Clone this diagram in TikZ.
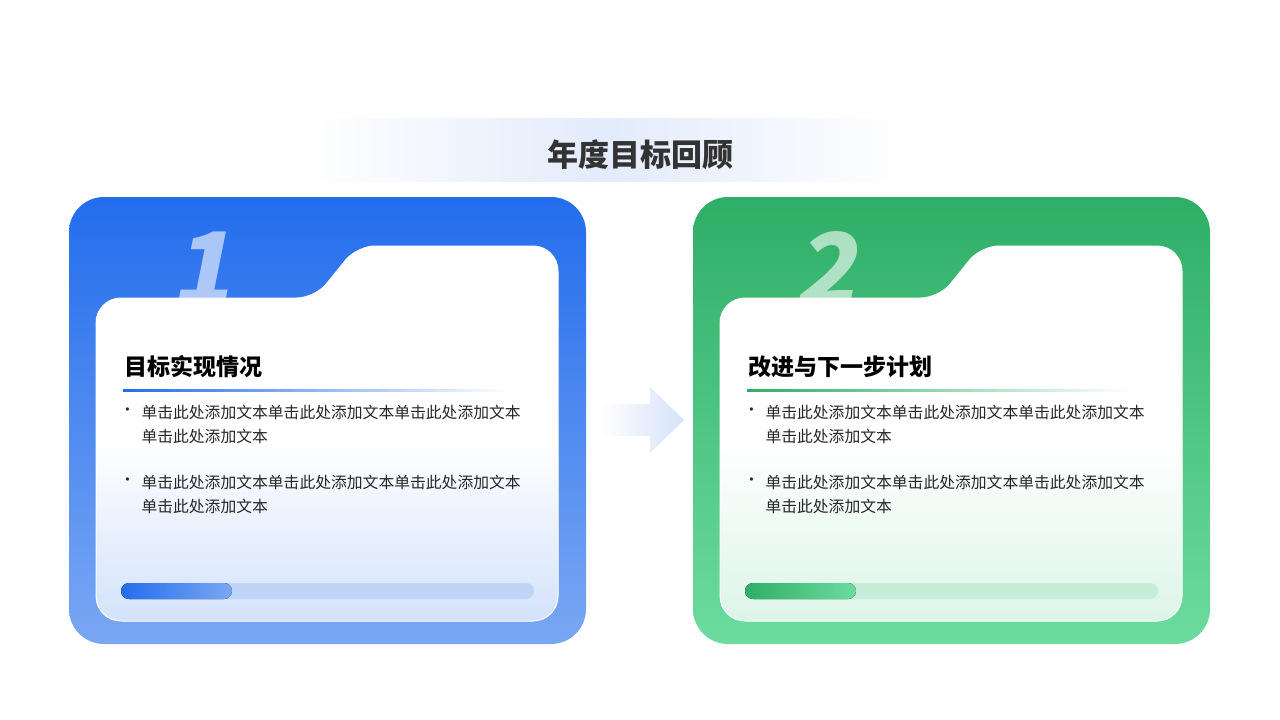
\documentclass[tikz,border=0pt]{standalone}
\usepackage{fontspec}
\setmainfont{Noto Sans CJK SC}
\usetikzlibrary{fadings}
\definecolor{btop}{HTML}{236DED}\definecolor{bbot}{HTML}{7AA7F3}
\definecolor{gtop}{HTML}{2EAE66}\definecolor{gbot}{HTML}{6DDC9F}
\definecolor{binner}{HTML}{D3E2FB}\definecolor{ginner}{HTML}{DCF5E8}
\definecolor{bbar}{HTML}{BFD5F8}\definecolor{gbar}{HTML}{C5EED8}
\definecolor{band}{HTML}{E3ECFC}\definecolor{arr}{HTML}{D6E3FA}
\tikzfading[name=sidefade, left color=transparent!100, right color=transparent!100, middle color=transparent!0]
\tikzfading[name=leftfade, left color=transparent!100, right color=transparent!0]
\begin{document}
\begin{tikzpicture}[x=1pt,y=-1pt,
  body/.style={font=\fontsize{15.8}{15.8}\selectfont, anchor=west, text=black!85},
  head/.style={font=\bfseries\fontsize{23}{23}\selectfont, anchor=west},
  num/.style={font=\bfseries\fontsize{100}{100}\selectfont, text=white, text opacity=0.6, xslant=0.2},
  folder/.style={insert path={(96,621) [rounded corners=25] -- (96,298) [rounded corners=18] -- (315,298) -- (357,246) [rounded corners=25] -- (558,246) -- (558,621) -- cycle}}]
\useasboundingbox[fill=white] (0,0) rectangle (1280,720);
\fill[band, path fading=sidefade] (310,118) rectangle (900,182);
\node[font=\bfseries\fontsize{31}{31}\selectfont, text=black!80] (title) at (640,155) {年度目标回顾};
\fill[arr, path fading=leftfade] (600,404) -- (650,404) -- (650,387) -- (684,420) -- (650,453) -- (650,436) -- (600,436) -- cycle;
\foreach \X/\T/\B/\I/\BL/\N/\H in {0/btop/bbot/binner/bbar/1/目标实现情况, 624/gtop/gbot/ginner/gbar/2/改进与下一步计划}{
\begin{scope}[xshift=\X]
\shade[rounded corners=35, top color=\T, bottom color=\B] (69,197) rectangle (586,644);
\node[num] (n\N) at (208,268) {\N};
\begin{scope}
\clip[folder];
\fill[white] (90,240) rectangle (565,630);
\shade[top color=white, bottom color=\I] (90,440) rectangle (565,622);
\end{scope}
\draw[white, line width=1pt, folder];
\node[head] (h\N) at (121,367) {\H};
\fill[left color=\T, right color=white] (123,389.5) rectangle (510,391);
\foreach \y in {412,482}{
  \node[body] at (116,\y) {•};
  \node[body] at (138,\y) {单击此处添加文本单击此处添加文本单击此处添加文本};
  \node[body] at (138,\y+24) {单击此处添加文本};
}
\fill[\BL, rounded corners=8] (121,583) rectangle (534,599);
\fill[left color=\T, right color=\B, rounded corners=8] (121,583) rectangle (232,599);
\end{scope}}
\end{tikzpicture}
\end{document}
